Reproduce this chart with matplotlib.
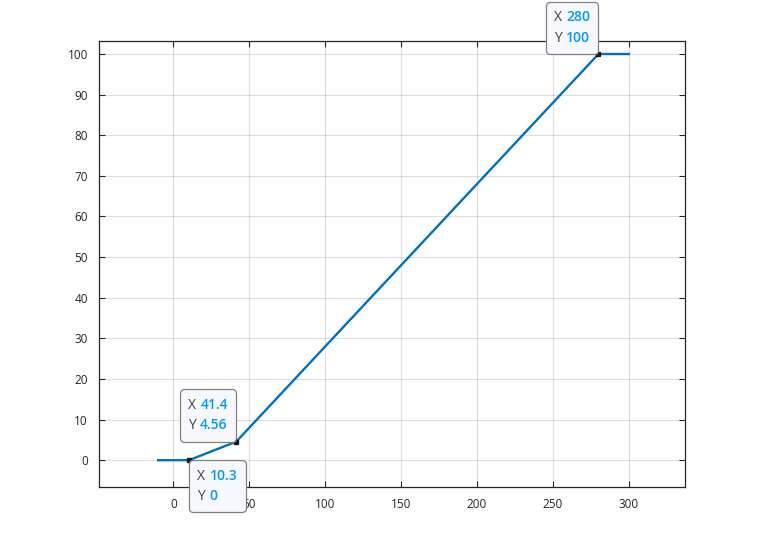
import matplotlib
matplotlib.use("Agg")
import matplotlib.pyplot as plt
from matplotlib.offsetbox import TextArea, HPacker, VPacker, AnnotationBbox

plt.rcParams['font.family'] = ['Open Sans', 'DejaVu Sans']

# data
x_vals = [-10, 10.3, 41.4, 280, 300]
y_vals = [0, 0, 4.56, 100, 100]
x_ticks = [0, 50, 100, 150, 200, 250, 300]
y_ticks = [0, 10, 20, 30, 40, 50, 60, 70, 80, 90, 100]

# data tips: (x, y, x label, y label, box alignment)
tips = [
    (10.3, 0, "10.3", "0", (0, 1)),
    (41.4, 4.56, "41.4", "4.56", (1, 0)),
    (280, 100, "280", "100", (1, 0)),
]

axcol = "#262626"
fig = plt.figure(figsize=(7.58, 5.47), dpi=100)
ax = fig.add_axes([0.1306, 0.1097, 0.7731, 0.8153])

ax.plot(x_vals, y_vals, color="#0072BD", lw=1.7, zorder=3)

ax.set_xlim(-49, 337)
ax.set_ylim(-6.6, 103.2)
ax.set_xticks(x_ticks)
ax.set_yticks(y_ticks)
ax.grid(True, color="#262626", alpha=0.15, lw=0.8)
ax.set_axisbelow(True)
ax.tick_params(direction="in", top=True, right=True, length=4, width=0.8,
               colors=axcol, labelsize=8.5, pad=8)
for sp in ax.spines.values():
    sp.set_color(axcol)
    sp.set_linewidth(0.9)

padpx = 0.6 * 10 * 100 / 72.0  # frame padding in pixels
for tx, ty, xs, ys, align in tips:
    ax.plot(tx, ty, marker="s", ms=3, color="#1a1a1a", zorder=5)
    row1 = HPacker(children=[
        TextArea("X", textprops=dict(color="#404040", fontsize=10)),
        TextArea(xs, textprops=dict(color="#0099FF", fontsize=10, fontweight="semibold")),
    ], pad=0, sep=3)
    row2 = HPacker(children=[
        TextArea("Y", textprops=dict(color="#404040", fontsize=10)),
        TextArea(ys, textprops=dict(color="#0099FF", fontsize=10, fontweight="semibold")),
    ], pad=0, sep=3)
    box = VPacker(children=[row1, row2], pad=0, sep=4, align="left")
    if align == (1, 0):
        off = (-padpx, padpx)
    else:
        off = (padpx, -padpx)
    ab = AnnotationBbox(box, (tx, ty), xycoords="data", xybox=off,
                        boxcoords="offset pixels", box_alignment=align,
                        frameon=True, annotation_clip=False,
                        bboxprops=dict(boxstyle="round,pad=0.6,rounding_size=0.3",
                                       facecolor="#F8F8FF", edgecolor="#808080", lw=0.9))
    ab.set_zorder(6)
    ax.add_artist(ab)

fig.savefig("out.png", dpi=100)
